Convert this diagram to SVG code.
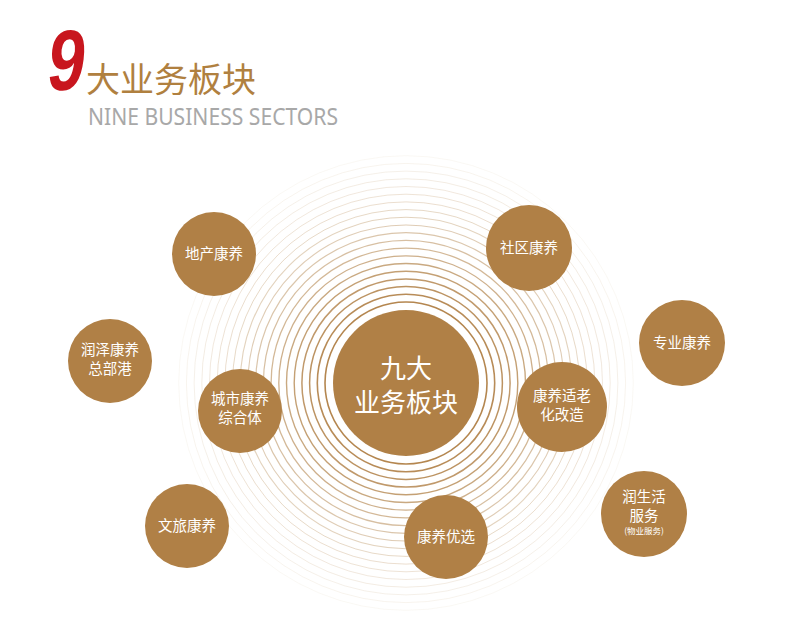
<svg xmlns="http://www.w3.org/2000/svg" width="790" height="637" viewBox="0 0 790 637">
<style>
.node{fill:#B08046;}
.nt{fill:#ffffff;font-family:"Noto Sans CJK SC","Noto Sans",sans-serif;font-size:14.5px;text-anchor:middle;}
.ring{fill:none;stroke:#B08046;}
</style>
<rect width="790" height="637" fill="#ffffff"/>
<g id="title">
<text transform="translate(45,90) skewX(-7) scale(0.78,1)" font-family="Liberation Sans, sans-serif" font-weight="bold" font-size="86" fill="#C8161E">9</text>
<text x="86" y="92" font-family="Noto Sans CJK SC, sans-serif" font-size="34" fill="#B0803F">大业务板块</text>
<text x="88" y="125" font-family="Noto Sans, sans-serif" font-size="23" fill="#A8A8A8" textLength="250" lengthAdjust="spacingAndGlyphs">NINE BUSINESS SECTORS</text>
</g>
<g id="rings">
<circle class="ring" cx="406" cy="383" r="81" stroke-width="1.6" stroke-opacity="0.95"/>
<circle class="ring" cx="406" cy="383" r="88.7" stroke-width="1.6" stroke-opacity="0.9"/>
<circle class="ring" cx="406" cy="383" r="96.4" stroke-width="1.5" stroke-opacity="0.85"/>
<circle class="ring" cx="406" cy="383" r="104.1" stroke-width="1.5" stroke-opacity="0.8"/>
<circle class="ring" cx="406" cy="383" r="111.8" stroke-width="1.4" stroke-opacity="0.75"/>
<circle class="ring" cx="406" cy="383" r="119.5" stroke-width="1.4" stroke-opacity="0.68"/>
<circle class="ring" cx="406" cy="383" r="127.2" stroke-width="1.3" stroke-opacity="0.62"/>
<circle class="ring" cx="406" cy="383" r="134.9" stroke-width="1.3" stroke-opacity="0.56"/>
<circle class="ring" cx="406" cy="383" r="142.6" stroke-width="1.2" stroke-opacity="0.5"/>
<circle class="ring" cx="406" cy="383" r="150.3" stroke-width="1.2" stroke-opacity="0.45"/>
<circle class="ring" cx="406" cy="383" r="158" stroke-width="1.1" stroke-opacity="0.4"/>
<circle class="ring" cx="406" cy="383" r="165.7" stroke-width="1.1" stroke-opacity="0.35"/>
<circle class="ring" cx="406" cy="383" r="173.4" stroke-width="1" stroke-opacity="0.3"/>
<circle class="ring" cx="406" cy="383" r="181.1" stroke-width="1" stroke-opacity="0.26"/>
<circle class="ring" cx="406" cy="383" r="188.8" stroke-width="1" stroke-opacity="0.22"/>
<circle class="ring" cx="406" cy="383" r="196.5" stroke-width="1" stroke-opacity="0.18"/>
<circle class="ring" cx="406" cy="383" r="204.2" stroke-width="1" stroke-opacity="0.15"/>
<circle class="ring" cx="406" cy="383" r="211.9" stroke-width="1" stroke-opacity="0.12"/>
<circle class="ring" cx="406" cy="383" r="219.6" stroke-width="1" stroke-opacity="0.09"/>
<circle class="ring" cx="406" cy="383" r="227.3" stroke-width="1" stroke-opacity="0.06"/>
</g>
<g id="connectors"></g>
<g id="center">
<circle class="node" cx="406" cy="383" r="73"/>
<text x="406" y="378" fill="#ffffff" font-family="Noto Sans CJK SC, sans-serif" font-size="26" text-anchor="middle">九大</text>
<text x="406" y="412" fill="#ffffff" font-family="Noto Sans CJK SC, sans-serif" font-size="26" text-anchor="middle">业务板块</text>
</g>
<g id="n-dichan">
<circle class="node" cx="214" cy="254" r="42"/>
<text class="nt" x="214" y="259">地产康养</text>
</g>
<g id="n-shequ">
<circle class="node" cx="529" cy="248" r="43"/>
<text class="nt" x="529" y="253">社区康养</text>
</g>
<g id="n-zhuanye">
<circle class="node" cx="682" cy="343" r="43"/>
<text class="nt" x="682" y="348">专业康养</text>
</g>
<g id="n-runze">
<circle class="node" cx="110" cy="361" r="42"/>
<text class="nt" x="110" y="355">润泽康养</text>
<text class="nt" x="110" y="374">总部港</text>
</g>
<g id="n-chengshi">
<circle class="node" cx="240" cy="411" r="42"/>
<text class="nt" x="240" y="404">城市康养</text>
<text class="nt" x="240" y="423">综合体</text>
</g>
<g id="n-shilao">
<circle class="node" cx="562" cy="407" r="45"/>
<text class="nt" x="562" y="401">康养适老</text>
<text class="nt" x="562" y="420">化改造</text>
</g>
<g id="n-wenlv">
<circle class="node" cx="187" cy="526" r="42"/>
<text class="nt" x="187" y="531">文旅康养</text>
</g>
<g id="n-youxuan">
<circle class="node" cx="446" cy="537" r="42"/>
<text class="nt" x="446" y="542">康养优选</text>
</g>
<g id="n-runshenghuo">
<circle class="node" cx="644" cy="514" r="43"/>
<text class="nt" x="644" y="502">润生活</text>
<text class="nt" x="644" y="521">服务</text>
<text class="nt" x="644" y="534" style="font-size:8.5px">(物业服务)</text>
</g>
</svg>
